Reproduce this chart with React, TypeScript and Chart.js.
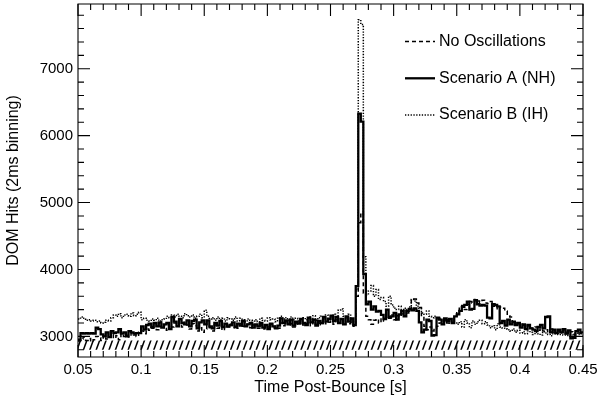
import { useEffect, useRef } from 'react';
import { Chart, registerables } from 'chart.js';

Chart.register(...registerables);

// ---- axis setup ----
const X_MIN = 0.05;
const X_MAX = 0.45;
const Y_MIN = 2692;
const Y_MAX = 7967;
const X_MAJOR = [0.05, 0.1, 0.15, 0.2, 0.25, 0.3, 0.35, 0.4, 0.45];
const X_LABELS = ['0.05', '0.1', '0.15', '0.2', '0.25', '0.3', '0.35', '0.4', '0.45'];
const X_MINOR_STEP = 0.01;
const Y_MAJOR = [3000, 4000, 5000, 6000, 7000];
const Y_LABELS = ['3000', '4000', '5000', '6000', '7000'];
const Y_MINOR_STEP = 200;

const X_TITLE = 'Time Post-Bounce [s]';
const Y_TITLE = 'DOM Hits (2ms binning)';

// ---- histogram binning ----
const BIN_START = 0.05;
const BIN_WIDTH = 0.002;

// ---- background band (hatched) ----
const BAND_TOP = 2940;
const BAND_BOTTOM = 2800;

// ---- series ----
const SERIES_LABELS = ['No Oscillations', 'Scenario A (NH)', 'Scenario B (IH)'];

const NO_OSC = [
  2930, 2960, 2990, 2940, 2970, 2920, 2950, 3000, 2980, 2940,
  3010, 2960, 2990, 3030, 2970, 3010, 2950, 3040, 3000, 3020,
  2990, 3050, 3020, 3000, 3060, 3080, 3040, 3110, 3090, 3120,
  3130, 3100, 3150, 3120, 3160, 3090, 3170, 3140, 3200, 3150,
  3180, 3140, 3210, 3170, 3110, 3190, 3160, 3080, 3130, 3060,
  3110, 3160, 3130, 3080, 3170, 3120, 3150, 3090, 3160, 3140,
  3180, 3130, 3170, 3120, 3190, 3150, 3140, 3180, 3130, 3170,
  3150, 3120, 3170, 3110, 3160, 3140, 3180, 3130, 3150, 3120,
  3200, 3160, 3220, 3170, 3190, 3140, 3200, 3180, 3230, 3170,
  3190, 3220, 3160, 3230, 3180, 3200, 3170, 3240, 3190, 3210,
  3230, 3180, 3250, 3200, 3220, 3170, 3260, 3190, 3210, 3150,
  3600, 4700, 4850, 3650, 3300, 3250, 3180, 3240, 3260, 3200,
  3280, 3230, 3300, 3270, 3320, 3250, 3310, 3290, 3340, 3300,
  3350, 3400, 3540, 3560, 3500, 3430, 3300, 3150, 3100, 3140,
  3080, 3120, 3150, 3200, 3230, 3250, 3200, 3260, 3240, 3310,
  3380, 3420, 3460, 3400, 3480, 3520, 3500, 3550, 3530, 3510,
  3540, 3500, 3490, 3520, 3450, 3470, 3400, 3440, 3420, 3380,
  3310, 3290, 3220, 3200, 3190, 3180, 3170, 3150, 3160, 3120,
  3110, 3140, 3090, 3120, 3080, 3100, 3070, 3110, 3090, 3060,
  3080, 3050, 3090, 3060, 3040, 3070, 3030, 3060, 3050, 3020,
];

const SCENARIO_A = [
  2950, 3050, 3040, 3050, 3040, 3050, 3040, 3130, 3110, 3030,
  3000, 3060, 2990, 3080, 3050, 3060, 3110, 3040, 3060, 3000,
  3080, 3060, 3040, 3050, 3050, 3150, 3100, 3170, 3190, 3140,
  3200, 3150, 3210, 3130, 3180, 3200, 3110, 3290, 3220, 3150,
  3260, 3200, 3180, 3240, 3150, 3230, 3250, 3120, 3210, 3240,
  3180, 3240, 3150, 3120, 3200, 3160, 3230, 3140, 3190, 3150,
  3170, 3210, 3140, 3190, 3160, 3230, 3150, 3180, 3200, 3130,
  3180, 3150, 3200, 3130, 3170, 3110, 3190, 3150, 3120, 3160,
  3270, 3200, 3240, 3180, 3250, 3160, 3220, 3190, 3260, 3200,
  3170, 3280, 3210, 3250, 3160, 3230, 3200, 3290, 3220, 3260,
  3310, 3230, 3290, 3200, 3260, 3180, 3300, 3220, 3270, 3170,
  3750, 6330, 6210, 3930, 3480, 3520, 3400, 3450, 3370, 3380,
  3320, 3260, 3400, 3290, 3300, 3350, 3250, 3330, 3380, 3300,
  3380, 3410, 3390, 3420, 3380, 3210, 3060, 3100, 3250, 3230,
  3010, 3020, 3280, 3250, 3180, 3270, 3230, 3260, 3200, 3300,
  3330, 3380, 3440, 3470, 3520, 3400, 3410, 3540, 3480, 3460,
  3470, 3460, 3280, 3270, 3480, 3470, 3450, 3200, 3230, 3160,
  3250, 3180, 3220, 3170, 3200, 3130, 3180, 3110, 3170, 3120,
  3100, 3080, 3140, 3170, 3120, 3290, 3300, 3060, 3100, 3050,
  3100, 3060, 3110, 3040, 3090, 2970, 2980, 3080, 3100, 3060,
];

const SCENARIO_B = [
  3260, 3290, 3270, 3240, 3250, 3230, 3240, 3220, 3230, 3200,
  3210, 3240, 3230, 3280, 3320, 3300, 3340, 3280, 3320, 3330,
  3300, 3350, 3310, 3330, 3360, 3250, 3270, 3240, 3230, 3260,
  3240, 3270, 3230, 3250, 3260, 3300, 3280, 3320, 3290, 3330,
  3300, 3280, 3340, 3310, 3290, 3320, 3270, 3300, 3330, 3280,
  3390, 3300, 3260, 3280, 3240, 3290, 3250, 3270, 3230, 3280,
  3260, 3240, 3290, 3230, 3270, 3250, 3220, 3260, 3240, 3230,
  3250, 3220, 3270, 3240, 3230, 3280, 3250, 3260, 3220, 3270,
  3300, 3260, 3280, 3240, 3290, 3250, 3270, 3230, 3260, 3280,
  3250, 3290, 3260, 3310, 3240, 3280, 3300, 3260, 3320, 3270,
  3290, 3330, 3280, 3390, 3410, 3300, 3270, 3330, 3250, 3220,
  3700, 7730, 7660, 4190, 3620, 3680, 3760, 3600, 3700, 3550,
  3580, 3520, 3450, 3600, 3470, 3420, 3400, 3450, 3380, 3420,
  3400, 3440, 3550, 3530, 3450, 3420, 3350, 3330, 3380, 3300,
  3280, 3300, 3260, 3270, 3230, 3240, 3250, 3200, 3230, 3200,
  3180, 3220, 3140, 3250, 3200, 3130, 3230, 3180, 3220, 3240,
  3190, 3220, 3170, 3130, 3160, 3100, 3190, 3140, 3120, 3110,
  3100, 3080, 3110, 3060, 3090, 3050, 3070, 3040, 3080, 3060,
  3030, 3060, 3040, 3020, 3070, 3050, 3030, 3010, 3060, 3040,
  3030, 3050, 3020, 3040, 3000, 3030, 3010, 3050, 3030, 3040,
];

const FONT = '"Liberation Sans", Arial, Helvetica, sans-serif';

const STYLES = [
  { width: 1.5, dash: [4, 3] },
  { width: 2.3, dash: [] as number[] },
  { width: 1.5, dash: [1.3, 1.5] },
];

function toSteps(values: number[]) {
  const pts = values.map((v, i) => ({ x: BIN_START + i * BIN_WIDTH, y: v }));
  pts.push({ x: BIN_START + values.length * BIN_WIDTH, y: values[values.length - 1] });
  return pts;
}

function makeHatch(): CanvasPattern | string {
  const c = document.createElement('canvas');
  c.width = 32;
  c.height = 10;
  const g = c.getContext('2d');
  if (!g) return '#000';
  g.strokeStyle = '#000';
  g.lineWidth = 1.5;
  for (let k = -1; k <= 5; k++) {
    const a = k * 6.4;
    g.beginPath();
    g.moveTo(a, 10.5);
    g.lineTo(a + 4, -0.5);
    g.stroke();
  }
  const p = g.createPattern(c, 'repeat');
  return p || '#000';
}

const framePlugin = {
  id: 'frameTicks',
  afterDraw(chart: any) {
    const { ctx, chartArea: a, scales } = chart;
    const x = scales.x;
    const y = scales.y;
    ctx.save();
    ctx.strokeStyle = '#000';
    ctx.lineWidth = 1.1;
    ctx.beginPath();
    ctx.rect(a.left, a.top, a.right - a.left, a.bottom - a.top);
    ctx.stroke();
    const MAJ = 12;
    const MIN = 6;
    ctx.beginPath();
    for (let v = X_MIN; v <= X_MAX + 1e-9; v += X_MINOR_STEP) {
      const px = x.getPixelForValue(v);
      const isMaj = X_MAJOR.some((m) => Math.abs(m - v) < 1e-6);
      const L = isMaj ? MAJ : MIN;
      ctx.moveTo(px, a.bottom);
      ctx.lineTo(px, a.bottom - L);
      ctx.moveTo(px, a.top);
      ctx.lineTo(px, a.top + L);
    }
    for (let v = 2800; v <= Y_MAX; v += Y_MINOR_STEP) {
      const py = y.getPixelForValue(v);
      const isMaj = Y_MAJOR.includes(v);
      const L = isMaj ? MAJ : MIN;
      ctx.moveTo(a.left, py);
      ctx.lineTo(a.left + L, py);
      ctx.moveTo(a.right, py);
      ctx.lineTo(a.right - L, py);
    }
    ctx.stroke();
    ctx.restore();
  },
};

const legendPlugin = {
  id: 'innerLegend',
  afterDraw(chart: any) {
    const { ctx } = chart;
    const rows = [41.5, 78.3, 115];
    ctx.save();
    ctx.font = `16px ${FONT}`;
    ctx.fillStyle = '#000';
    ctx.textBaseline = 'middle';
    ctx.textAlign = 'left';
    SERIES_LABELS.forEach((label, i) => {
      const yy = rows[i];
      ctx.beginPath();
      ctx.strokeStyle = '#000';
      ctx.lineWidth = STYLES[i].width;
      ctx.setLineDash(STYLES[i].dash);
      ctx.moveTo(405, yy);
      ctx.lineTo(435, yy);
      ctx.stroke();
      ctx.setLineDash([]);
      ctx.fillText(label, 439, yy);
    });
    ctx.restore();
  },
};

export default function App() {
  const ref = useRef<HTMLCanvasElement>(null);

  useEffect(() => {
    document.body.style.margin = '0';
    const canvas = ref.current;
    if (!canvas) return;
    const hatch = makeHatch();
    const seriesData = [NO_OSC, SCENARIO_A, SCENARIO_B];
    const datasets: any[] = seriesData.map((vals, i) => ({
      label: SERIES_LABELS[i],
      data: toSteps(vals),
      stepped: 'before',
      borderColor: '#000',
      borderWidth: STYLES[i].width,
      borderDash: STYLES[i].dash,
      pointRadius: 0,
      fill: false,
      order: 3 - i,
    }));
    datasets.push({
      label: 'band',
      data: [
        { x: X_MIN, y: BAND_TOP },
        { x: X_MAX, y: BAND_TOP },
      ],
      borderWidth: 0,
      borderColor: 'rgba(0,0,0,0)',
      backgroundColor: hatch,
      fill: { value: BAND_BOTTOM },
      pointRadius: 0,
      order: 10,
    });

    const chart = new Chart(canvas, {
      type: 'line',
      data: { datasets },
      options: {
        responsive: false,
        animation: false,
        devicePixelRatio: 1,
        layout: { padding: { top: 4, right: 17, left: 0, bottom: 0 } },
        plugins: {
          legend: { display: false },
          tooltip: { enabled: false },
        },
        scales: {
          x: {
            type: 'linear',
            min: X_MIN,
            max: X_MAX,
            afterBuildTicks: (s: any) => {
              s.ticks = X_MAJOR.map((v) => ({ value: v }));
            },
            afterFit: (s: any) => {
              s.height = 40;
              s.paddingLeft = 0;
              s.paddingRight = 0;
              s.paddingTop = 0;
              s.paddingBottom = 0;
            },
            ticks: {
              autoSkip: false,
              maxRotation: 0,
              padding: 4,
              color: '#000',
              font: { family: FONT, size: 15 },
              callback: (v: any) => {
                const idx = X_MAJOR.findIndex((m) => Math.abs(m - Number(v)) < 1e-6);
                return idx >= 0 ? X_LABELS[idx] : '';
              },
            },
            grid: { display: false, drawTicks: false },
            border: { display: false },
            title: {
              display: true,
              text: X_TITLE,
              color: '#000',
              font: { family: FONT, size: 16 },
              padding: { top: 0, bottom: 0 },
            },
          },
          y: {
            type: 'linear',
            min: Y_MIN,
            max: Y_MAX,
            afterBuildTicks: (s: any) => {
              s.ticks = Y_MAJOR.map((v) => ({ value: v }));
            },
            afterFit: (s: any) => {
              s.width = 78;
              s.paddingLeft = 0;
              s.paddingRight = 0;
              s.paddingTop = 0;
              s.paddingBottom = 0;
            },
            ticks: {
              autoSkip: false,
              padding: 5,
              color: '#000',
              font: { family: FONT, size: 15 },
              callback: (v: any) => {
                const idx = Y_MAJOR.indexOf(Number(v));
                return idx >= 0 ? Y_LABELS[idx] : '';
              },
            },
            grid: { display: false, drawTicks: false },
            border: { display: false },
            title: {
              display: true,
              text: Y_TITLE,
              color: '#000',
              font: { family: FONT, size: 16 },
              padding: { top: 4, bottom: 0 },
            },
          },
        },
      },
      plugins: [framePlugin, legendPlugin],
    } as any);

    return () => chart.destroy();
  }, []);

  return (
    <div style={{ position: 'fixed', left: 0, top: 0, width: 600, height: 397, background: '#fff' }}>
      <canvas ref={ref} width={600} height={397} style={{ width: 600, height: 397, display: 'block' }} />
    </div>
  );
}
